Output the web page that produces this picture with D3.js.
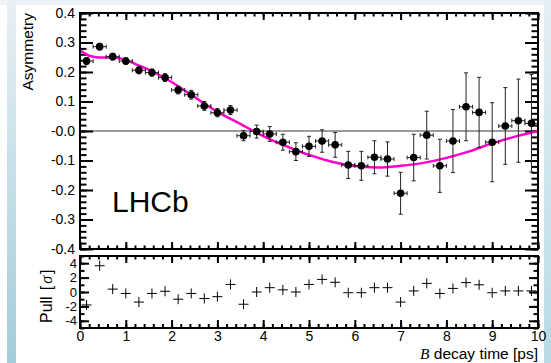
<!DOCTYPE html>
<html><head><meta charset="utf-8">
<script src="https://cdn.jsdelivr.net/npm/d3@7"></script>
<style>body{margin:0;background:#fff}svg{display:block}</style>
</head><body><svg id="c" width="551" height="363"></svg>
<script>
// ---- data ----
const binCenters = [0.143,0.429,0.714,1.0,1.286,1.571,1.857,2.143,2.429,2.714,3.0,3.286,3.571,3.857,4.143,4.429,4.714,5.0,5.286,5.571,5.857,6.143,6.429,6.714,7.0,7.286,7.571,7.857,8.143,8.429,8.714,9.0,9.286,9.571,9.857];
const asymmetry = [0.237,0.286,0.252,0.237,0.206,0.198,0.181,0.139,0.123,0.085,0.062,0.071,-0.016,-0.002,-0.010,-0.038,-0.070,-0.052,-0.034,-0.047,-0.115,-0.118,-0.089,-0.095,-0.211,-0.090,-0.014,-0.118,-0.034,0.082,0.063,-0.038,0.017,0.035,0.026];
const asymErr = [0.012,0.011,0.011,0.011,0.012,0.012,0.013,0.013,0.015,0.015,0.014,0.015,0.017,0.022,0.025,0.027,0.030,0.034,0.038,0.042,0.046,0.049,0.056,0.058,0.071,0.079,0.081,0.090,0.107,0.115,0.119,0.134,0.130,0.141,0.165];
const pulls = [-1.8,3.65,0.4,-0.2,-1.4,-0.2,0.1,-1.0,-0.2,-0.9,-0.65,1.05,-1.7,0.0,0.6,0.3,0.0,1.05,1.75,1.35,-0.1,-0.1,0.6,0.6,-1.4,0.15,1.2,-0.2,0.5,1.3,1.0,-0.1,0.15,0.15,0.15];
const halfBinWidth = 0.143;
const curveTimes  = [0,0.1,0.2,0.35,0.5,0.75,1.0,1.25,1.5,1.75,2.0,2.5,3.0,3.5,4.0,4.5,5.0,5.5,6.0,6.5,7.0,7.5,8.0,8.5,9.0,9.5,10];
const curveValues = [0.275,0.263,0.255,0.250,0.249,0.249,0.241,0.224,0.208,0.188,0.166,0.115,0.065,0.024,-0.017,-0.051,-0.081,-0.104,-0.119,-0.124,-0.118,-0.108,-0.091,-0.069,-0.042,-0.019,0.0];
const xTicks = [0,1,2,3,4,5,6,7,8,9,10];
const xTickLabels = ["0","1","2","3","4","5","6","7","8","9","10"];
const yTopTicks = [0.4,0.3,0.2,0.1,0,-0.1,-0.2,-0.3,-0.4];
const yTopLabels = ["0.4","0.3","0.2","0.1","-0.0","-0.1","-0.2","-0.3","-0.4"];
const pullTicks = [4,2,0,-2,-4];
const pullLabels = ["4","2","0","-2","-4"];

(function(){
// ---- layout ----
const svg = d3.select("#c");
const L = 80, R = 538, T1 = 13, B1 = 249, T2 = 256, B2 = 328;
const FONT = "'Liberation Sans', Arial, Helvetica, sans-serif";
const SERIF = "'Liberation Serif', 'Times New Roman', serif";

// background (slide)
const defs = svg.append("defs");
const gl = defs.append("linearGradient").attr("id","gl").attr("x1",0).attr("y1",0).attr("x2",0).attr("y2",1);
gl.append("stop").attr("offset",0).attr("stop-color","#e8f0f5");
gl.append("stop").attr("offset",1).attr("stop-color","#a3cdda");
const gr = defs.append("linearGradient").attr("id","gr").attr("x1",0).attr("y1",0).attr("x2",0).attr("y2",1);
gr.append("stop").attr("offset",0).attr("stop-color","#e4eff4");
gr.append("stop").attr("offset",1).attr("stop-color","#b9dbe5");
svg.append("rect").attr("width",551).attr("height",363).attr("fill","#fff");
svg.append("rect").attr("x",0).attr("y",0).attr("width",551).attr("height",5).attr("fill","#edf2f6");
svg.append("rect").attr("x",7).attr("y",0).attr("width",9).attr("height",363).attr("fill","url(#gl)");
svg.append("rect").attr("x",544).attr("y",0).attr("width",7).attr("height",363).attr("fill","url(#gr)");

const x = d3.scaleLinear().domain([0,10]).range([L,R]);
const y = d3.scaleLinear().domain([-0.4,0.4]).range([B1,T1]);
const yp = d3.scaleLinear().domain([-5,5]).range([B2,T2]);

function styleAxis(g){
  g.select(".domain").remove();
  g.selectAll(".tick line").attr("stroke","#000").attr("stroke-width",2);
  g.selectAll(".tick text").attr("font-family",FONT).attr("fill","#000");
}
const minorX = d3.range(0,10.001,0.2);
const minorY = d3.range(-0.4,0.401,0.02);
const minorP = d3.range(-5,5.01,1);

// ---- top panel ----
const topP = svg.append("g");
topP.append("line").attr("x1",x(0)).attr("x2",x(10)).attr("y1",y(0)).attr("y2",y(0))
  .attr("stroke","#7a7a7a").attr("stroke-width",1.5);

topP.append("g").attr("transform",`translate(${L},0)`)
  .call(d3.axisLeft(y).tickValues(yTopTicks).tickSize(-13).tickPadding(5)
    .tickFormat((d,i)=>yTopLabels[i])).call(styleAxis)
  .selectAll("text").attr("font-size",14);
topP.append("g").attr("transform",`translate(${L},0)`)
  .call(d3.axisLeft(y).tickValues(minorY).tickSize(-6.5).tickFormat("")).call(styleAxis);
topP.append("g").attr("transform",`translate(${R},0)`)
  .call(d3.axisRight(y).tickValues(yTopTicks).tickSize(-13).tickFormat("")).call(styleAxis);
topP.append("g").attr("transform",`translate(${R},0)`)
  .call(d3.axisRight(y).tickValues(minorY).tickSize(-6.5).tickFormat("")).call(styleAxis);
[[T1,d3.axisTop],[B1,d3.axisBottom]].forEach(([yy,ax])=>{
  topP.append("g").attr("transform",`translate(0,${yy})`)
    .call(ax(x).tickValues(xTicks).tickSize(-7).tickFormat("")).call(styleAxis);
  topP.append("g").attr("transform",`translate(0,${yy})`)
    .call(ax(x).tickValues(minorX).tickSize(-3.5).tickFormat("")).call(styleAxis);
});

// fit curve
topP.append("path")
  .datum(curveTimes.map((t,i)=>[t,curveValues[i]]))
  .attr("d", d3.line().x(d=>x(d[0])).y(d=>y(d[1])).curve(d3.curveCatmullRom))
  .attr("fill","none").attr("stroke","#ff00cc").attr("stroke-width",2.5);

// data points with error bars
const pts = binCenters.map((t,i)=>({t, v:asymmetry[i], e:asymErr[i]}));
const eb = topP.append("g").attr("stroke","#222").attr("stroke-width",1);
pts.forEach(p=>{
  const cx = x(p.t), cy = y(p.v);
  const x0 = x(p.t-halfBinWidth), x1 = x(p.t+halfBinWidth);
  const y0 = y(p.v-p.e), y1 = y(p.v+p.e);
  eb.append("line").attr("x1",x0).attr("x2",x1).attr("y1",cy).attr("y2",cy);
  eb.append("line").attr("x1",x0).attr("x2",x0).attr("y1",cy-2).attr("y2",cy+2);
  eb.append("line").attr("x1",x1).attr("x2",x1).attr("y1",cy-2).attr("y2",cy+2);
  eb.append("line").attr("x1",cx).attr("x2",cx).attr("y1",y0).attr("y2",y1);
  eb.append("line").attr("x1",cx-2).attr("x2",cx+2).attr("y1",y0).attr("y2",y0);
  eb.append("line").attr("x1",cx-2).attr("x2",cx+2).attr("y1",y1).attr("y2",y1);
});
topP.append("g").selectAll("circle").data(pts).join("circle")
  .attr("cx",d=>x(d.t)).attr("cy",d=>y(d.v)).attr("r",3.8).attr("fill","#000");

topP.append("rect").attr("x",L).attr("y",T1).attr("width",R-L).attr("height",B1-T1)
  .attr("fill","none").attr("stroke","#000").attr("stroke-width",2);

topP.append("text").attr("x",112).attr("y",212).attr("font-family",FONT).attr("font-size",30)
  .text("LHCb");
topP.append("text").attr("transform","translate(33,13) rotate(-90)").attr("text-anchor","end")
  .attr("font-family",FONT).attr("font-size",15.5).text("Asymmetry");

// ---- bottom panel ----
const bot = svg.append("g");
bot.append("g").attr("transform",`translate(${L},0)`)
  .call(d3.axisLeft(yp).tickValues(pullTicks).tickSize(-9).tickPadding(3)
    .tickFormat((d,i)=>pullLabels[i])).call(styleAxis)
  .selectAll("text").attr("font-size",13);
bot.append("g").attr("transform",`translate(${L},0)`)
  .call(d3.axisLeft(yp).tickValues(minorP).tickSize(-4.5).tickFormat("")).call(styleAxis);
bot.append("g").attr("transform",`translate(${R},0)`)
  .call(d3.axisRight(yp).tickValues(pullTicks).tickSize(-9).tickFormat("")).call(styleAxis);
bot.append("g").attr("transform",`translate(${R},0)`)
  .call(d3.axisRight(yp).tickValues(minorP).tickSize(-4.5).tickFormat("")).call(styleAxis);
bot.append("g").attr("transform",`translate(0,${T2})`)
  .call(d3.axisTop(x).tickValues(xTicks).tickSize(-7).tickFormat("")).call(styleAxis);
bot.append("g").attr("transform",`translate(0,${T2})`)
  .call(d3.axisTop(x).tickValues(minorX).tickSize(-3.5).tickFormat("")).call(styleAxis);
bot.append("g").attr("transform",`translate(0,${B2})`)
  .call(d3.axisBottom(x).tickValues(xTicks).tickSize(-8).tickPadding(3)
    .tickFormat((d,i)=>xTickLabels[i])).call(styleAxis)
  .selectAll("text").attr("font-size",14);
bot.append("g").attr("transform",`translate(0,${B2})`)
  .call(d3.axisBottom(x).tickValues(minorX).tickSize(-4).tickFormat("")).call(styleAxis);

const pg = bot.append("g").attr("stroke","#000").attr("stroke-width",1);
binCenters.forEach((t,i)=>{
  const cx = x(t), cy = yp(pulls[i]);
  pg.append("line").attr("x1",cx-5).attr("x2",cx+5).attr("y1",cy).attr("y2",cy);
  pg.append("line").attr("x1",cx).attr("x2",cx).attr("y1",cy-5).attr("y2",cy+5);
});

bot.append("rect").attr("x",L).attr("y",T2).attr("width",R-L).attr("height",B2-T2)
  .attr("fill","none").attr("stroke","#000").attr("stroke-width",2);

const pt = bot.append("text").attr("transform","translate(52,323) rotate(-90)")
  .attr("font-family",FONT).attr("font-size",16);
pt.append("tspan").text("Pull");
pt.append("tspan").attr("dx",6).text("[");
pt.append("tspan").attr("font-family",SERIF).attr("font-style","italic").attr("dx",2).text("σ");
pt.append("tspan").attr("dx",2).text("]");

const xt = svg.append("text").attr("x",538).attr("y",359).attr("text-anchor","end")
  .attr("font-family",FONT).attr("font-size",15.5);
xt.append("tspan").attr("font-family",SERIF).attr("font-style","italic").text("B");
xt.append("tspan").text(" decay time [ps]");
})();
</script></body></html>
